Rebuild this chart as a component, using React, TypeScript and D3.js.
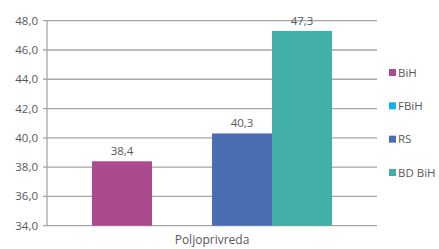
import React from "react";
import * as d3 from "d3";

const categories = ["Poljoprivreda"];
const seriesNames = ["BiH", "FBiH", "RS", "BD BiH"];
const seriesValues: (number | null)[] = [38.4, null, 40.3, 47.3];
const seriesColors = ["#AB4A8E", "#14B0EE", "#4A6DB3", "#42AFA9"];
const yTicks = [34, 36, 38, 40, 42, 44, 46, 48];

const W = 439, H = 249;
const left = 47, right = 377, top = 20.7, bottom = 225.7;
const font = "'Open Sans', 'Noto Sans', sans-serif";
const fmt = (v: number) => v.toFixed(1).replace(".", ",");

export default function App() {
  const y = d3.scaleLinear().domain([34, 48]).range([bottom, top]);
  const x0 = d3.scaleBand().domain(categories).range([left, right]).paddingInner(0).paddingOuter(0.1875);
  const x1 = d3.scaleBand().domain(seriesNames).range([0, x0.bandwidth()]).padding(0);
  const legendY = d3.scalePoint().domain(seriesNames).range([69, 169]);
  return (
    <svg width={W} height={H} style={{ position: "absolute", left: 0, top: 0, background: "#fff" }}>
      {yTicks.map((t) => (
        <g key={t}>
          <line x1={left - 4} x2={right} y1={y(t)} y2={y(t)} stroke="#A6A6A6" strokeWidth={1.3} />
          <text x={38} y={y(t)} dy="0.35em" textAnchor="end" fontFamily={font} fontSize={11.5} fill="#595959">
            {fmt(t)}
          </text>
        </g>
      ))}
      <line x1={left} x2={left} y1={top} y2={bottom} stroke="#A6A6A6" strokeWidth={1.3} />
      {categories.map((c) => (
        <g key={c}>
          {seriesNames.map((s, i) => {
            const v = seriesValues[i];
            if (v == null) return null;
            const bx = (x0(c) as number) + (x1(s) as number);
            return (
              <g key={s}>
                <rect x={bx} y={y(v)} width={x1.bandwidth()} height={bottom - y(v)} fill={seriesColors[i]} />
                <text x={bx + x1.bandwidth() / 2} y={y(v) - 6} textAnchor="middle" fontFamily={font} fontSize={11.5} fill="#595959">
                  {fmt(v)}
                </text>
              </g>
            );
          })}
          <text x={(x0(c) as number) + x0.bandwidth() / 2} y={244} textAnchor="middle" fontFamily={font} fontSize={12} fill="#595959">
            {c}
          </text>
        </g>
      ))}
      {seriesNames.map((s, i) => (
        <g key={s}>
          <rect x={389} y={legendY(s) as number} width={7} height={7} fill={seriesColors[i]} />
          <text x={398} y={(legendY(s) as number) + 3.5} dy="0.35em" fontFamily={font} fontSize={11.5} fill="#595959">
            {s}
          </text>
        </g>
      ))}
    </svg>
  );
}
